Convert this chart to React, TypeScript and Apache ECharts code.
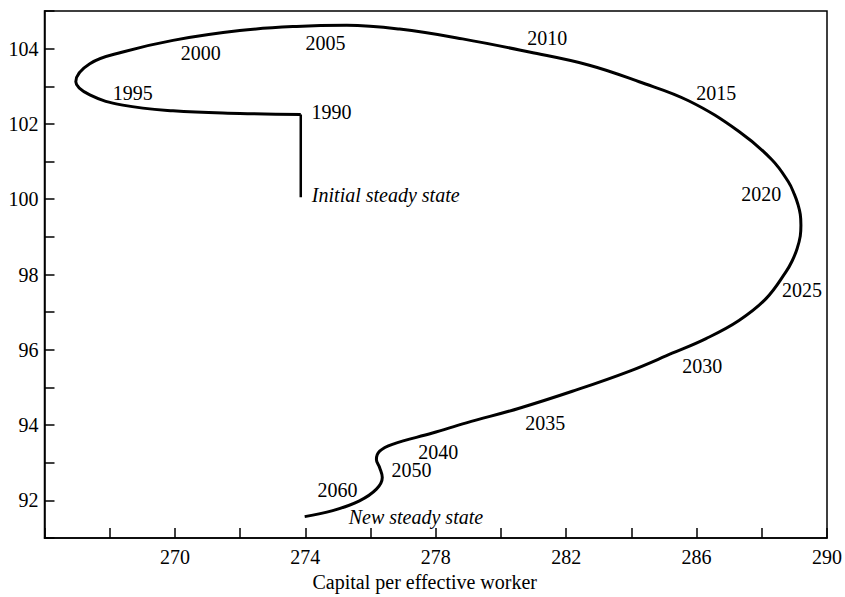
import React, { useEffect, useRef } from "react";
import * as echarts from "echarts";

// Initial jump at 1990 (vertical segment)
const initX = [273.86, 273.86];
const initY = [100.05, 102.25];

// Transition path of capital per effective worker (x) and output (y)
const pathX = [
  273.86, 271.99, 269.94, 268.4, 267.39, 266.96, 267.39, 268.4, 269.94, 271.99,
  273.73, 275.27, 276.89, 278.82, 280.87, 282.71, 284.24, 285.77, 287.3, 288.31,
  288.81, 289.0, 289.11, 289.18, 289.2, 289.18, 289.08, 288.93, 288.74, 288.13,
  287.3, 286.29, 285.25, 283.93, 282.19, 280.56, 278.94, 277.9, 276.67, 276.28,
  276.18, 276.28, 276.36, 276.18, 275.66, 274.84, 273.98,
];
const pathY = [
  102.25, 102.28, 102.35, 102.5, 102.77, 103.12, 103.6, 103.91, 104.22, 104.48,
  104.59, 104.62, 104.52, 104.26, 103.91, 103.56, 103.12, 102.61, 101.8, 101.05,
  100.47, 100.13, 99.86, 99.6, 99.31, 99.02, 98.68, 98.36, 98.07, 97.36,
  96.78, 96.3, 95.91, 95.43, 94.9, 94.45, 94.06, 93.79, 93.49, 93.31,
  93.09, 92.87, 92.61, 92.3, 91.99, 91.73, 91.57,
];

// Year annotations
const yearLabels = ["1990", "1995", "2000", "2005", "2010", "2015", "2020", "2025", "2030", "2035", "2040", "2050", "2060"];
const yearX = [274.8, 268.71, 270.79, 274.62, 281.42, 286.6, 287.98, 289.23, 286.17, 281.36, 278.08, 277.26, 274.99];
const yearY = [102.31, 102.83, 103.89, 104.15, 104.29, 102.83, 100.13, 97.58, 95.58, 94.07, 93.28, 92.8, 92.28];

// Notes
const noteLabels = ["Initial steady state", "New steady state"];
const noteX = [274.2, 275.33];
const noteY = [100.1, 91.55];

const xTicks = { min: 266, max: 290, interval: 2 };
const yTicks = { min: 91, max: 105, interval: 1 };

const FONT = "'Liberation Serif', 'DejaVu Serif', serif";

export default function App() {
  const ref = useRef<HTMLDivElement>(null);

  useEffect(() => {
    if (!ref.current) return;
    const chart = echarts.init(ref.current, null, { renderer: "svg" });

    const curve = pathX.map((x, i) => [x, pathY[i]]);
    const init = initX.map((x, i) => [x, initY[i]]);
    const years = yearLabels.map((t, i) => [yearX[i], yearY[i], t]);
    const notes = noteLabels.map((t, i) => [noteX[i], noteY[i], t]);

    chart.setOption({
      animation: false,
      backgroundColor: "#ffffff",
      grid: {
        left: 44.5,
        right: 17,
        top: 11,
        bottom: 56,
        show: true,
        borderColor: "#000",
        borderWidth: 1.5,
        containLabel: false,
      },
      xAxis: {
        type: "value",
        min: xTicks.min,
        max: xTicks.max,
        interval: xTicks.interval,
        name: "Capital per effective worker",
        nameLocation: "middle",
        nameGap: 33,
        nameTextStyle: {
          fontFamily: FONT,
          fontSize: 20,
          color: "#000",
          padding: [0, 22, 0, 0],
        },
        axisLine: { show: true, onZero: false, lineStyle: { color: "#000", width: 1.5 } },
        axisTick: { show: true, inside: true, length: 10, lineStyle: { color: "#000", width: 1.5 } },
        splitLine: { show: false },
        axisLabel: {
          fontFamily: FONT,
          fontSize: 20,
          color: "#000",
          margin: 9,
          formatter: (v: number) => (v > 266 && (v - 270) % 4 === 0 ? String(v) : ""),
        },
      },
      yAxis: {
        type: "value",
        min: yTicks.min,
        max: yTicks.max,
        interval: yTicks.interval,
        axisLine: { show: true, onZero: false, lineStyle: { color: "#000", width: 1.5 } },
        axisTick: { show: true, inside: true, length: 10, lineStyle: { color: "#000", width: 1.5 } },
        splitLine: { show: false },
        axisLabel: {
          fontFamily: FONT,
          fontSize: 20,
          color: "#000",
          margin: 6,
          formatter: (v: number) => (v % 2 === 0 && v > 91 && v < 105 ? String(v) : ""),
        },
      },
      series: [
        {
          type: "line",
          data: init,
          showSymbol: false,
          symbol: "none",
          lineStyle: { color: "#000", width: 2.5 },
          silent: true,
        },
        {
          type: "line",
          data: curve,
          smooth: 0.4,
          showSymbol: false,
          symbol: "none",
          lineStyle: { color: "#000", width: 3 },
          silent: true,
        },
        {
          type: "scatter",
          data: years,
          symbolSize: 0,
          itemStyle: { color: "#000", opacity: 1 },
          silent: true,
          label: {
            show: true,
            position: "inside",
            formatter: (p: any) => p.data[2],
            fontFamily: FONT,
            fontSize: 20,
            color: "#000",
            opacity: 1,
          },
        },
        {
          type: "scatter",
          data: notes,
          symbolSize: 0,
          itemStyle: { color: "#000", opacity: 1 },
          silent: true,
          label: {
            show: true,
            position: "right",
            distance: 0,
            formatter: (p: any) => p.data[2],
            fontFamily: FONT,
            fontStyle: "italic",
            fontSize: 20,
            color: "#000",
            opacity: 1,
          },
        },
      ],
    });

    return () => {
      chart.dispose();
    };
  }, []);

  return (
    <div
      ref={ref}
      style={{ position: "absolute", left: 0, top: 0, width: 845, height: 597 }}
    />
  );
}
